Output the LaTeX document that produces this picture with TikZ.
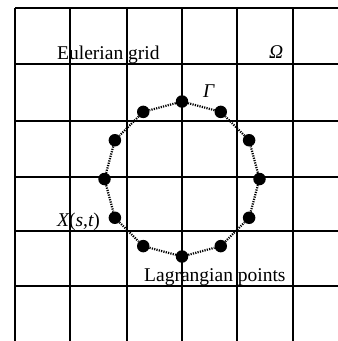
\documentclass[tikz,border=0pt]{standalone}
\usepackage{fontspec}
\setmainfont{Liberation Serif}
\usetikzlibrary{arrows.meta}

\begin{document}
\begin{tikzpicture}[x=1pt,y=-1pt,
  gridline/.style={line width=2.2pt},
  lpoint/.style={circle,fill=black,inner sep=0pt,minimum size=12.5pt},
  link/.style={line width=2.2pt,dash pattern=on 1.2pt off 1.2pt},
  lbl/.style={anchor=base west,inner sep=0pt,font=\fontsize{19.5}{21}\selectfont}
]
  \useasboundingbox (0,0) rectangle (338,341);
  % Eulerian grid
  \foreach \gx in {15,70,127,182,237,293}
    \draw[gridline] (\gx,8) -- (\gx,341);
  \foreach \gy in {8,64,121,177,231,286}
    \draw[gridline] (15,\gy) -- (338,\gy);
  % Lagrangian points on the boundary
  \foreach \i in {0,...,11}
    \node[lpoint] (p\i) at ({182+77.5*cos(90+30*\i)},{179-77.5*sin(90+30*\i)}) {};
  \foreach \i [evaluate=\i as \j using {int(mod(\i+1,12))}] in {0,...,11}
    \draw[link] (p\i) -- (p\j);
  % labels
  \node[lbl] (euler) at (57,59) {Eulerian grid};
  \node[lbl] (omega) at (269,58) {\itshape Ω};
  \node[lbl] (gamma) at (203,97) {\itshape Γ};
  \node[lbl] (xst) at (57,226.5) {{\itshape X}({\itshape s},{\itshape t})};
  \node[lbl] (lagr) at (144,281) {Lagrangian points};
\end{tikzpicture}
\end{document}
